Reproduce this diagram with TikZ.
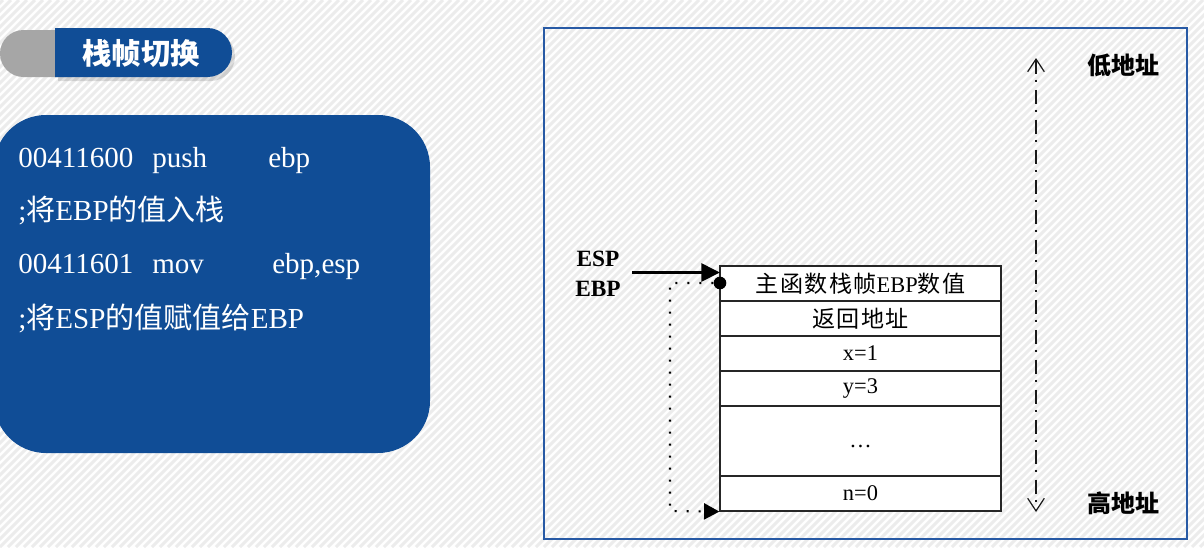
\documentclass[tikz,border=0pt]{standalone}
\usepackage{fontspec}
\setmainfont{Liberation Serif}
\newfontfamily\zhsans{Noto Sans CJK SC}
\usetikzlibrary{arrows.meta}
\definecolor{boxblue}{RGB}{16,77,150}
\definecolor{frameblue}{RGB}{40,90,165}
\definecolor{tabgray}{RGB}{166,166,166}
\definecolor{stripe}{RGB}{236,236,236}
\newcommand{\zh}[1]{{\zhsans #1}}
\newcommand{\zht}[1]{{\zhsans\fontsize{17.3}{20}\selectfont\addfontfeature{LetterSpace=6}#1}}

\begin{document}
\begin{tikzpicture}[x=0.75pt,y=-0.75pt,
  codetext/.style={text=white, font=\fontsize{21.8}{26}\selectfont, anchor=base west, inner sep=0pt},
  cell/.style={draw=black!85, line width=0.9pt, fill=white, minimum width={281*0.75pt},
               minimum height={35*0.75pt}, inner sep=0pt, font=\fontsize{16.8}{20}\selectfont},
  reglabel/.style={font=\fontsize{17.5}{20}\selectfont\bfseries, inner sep=0pt},
  addrlabel/.style={font=\fontsize{18}{20}\selectfont\zhsans\bfseries, inner sep=0pt},
  dotline/.style={line width=1.6pt, dash pattern=on 1.6pt off 7.4pt},
  axisline/.style={line width=0.9pt, black!90, dash pattern=on 10.5pt off 4.5pt on 1.5pt off 6pt}]

\useasboundingbox (0,0) rectangle (1204,547);

% striped page background
\fill[white] (0,0) rectangle (1204,547);
\begin{scope}
  \clip (0,0) rectangle (1204,547);
  \foreach \k in {-560,-552,...,1210}
    \draw[stripe, line width=2.3pt] (\k,547) -- (\k+547,0);
\end{scope}

% title tab: shadow, grey cap, blue label
\fill[black, opacity=0.13] (58,32) [rounded corners={24.5*0.75pt}] -- (235,32) -- (235,81) [sharp corners] -- (58,81) -- cycle;
\fill[tabgray] (70,30) [rounded corners={23.5*0.75pt}] -- (0,30) -- (0,77) [sharp corners] -- (70,77) -- cycle;
\fill[boxblue] (55,28) [rounded corners={24.5*0.75pt}] -- (232,28) -- (232,77) [sharp corners] -- (55,77) -- cycle;
\node[text=white, font=\fontsize{22}{24}\selectfont\zhsans\bfseries, inner sep=0pt] (title) at (141,53) {栈帧切换};

% assembly code box
\fill[boxblue, rounded corners={52*0.75pt}] (-6,115) rectangle (430,453);
\node[codetext] (c1a) at (18,167) {00411600};
\node[codetext] (c1b) at (152,167) {push};
\node[codetext] (c1c) at (268,167) {ebp};
\node[codetext] (c2) at (18,220) {;\zh{将}EBP\zh{的值入栈}};
\node[codetext] (c3a) at (18,273) {00411601};
\node[codetext] (c3b) at (152,273) {mov};
\node[codetext] (c3c) at (272,273) {ebp,esp};
\node[codetext] (c4) at (18,328) {;\zh{将}ESP\zh{的值赋值给}EBP};

% stack frame panel
\draw[frameblue, line width=1.5pt] (544,28) rectangle (1187,539);

% stack cells
\node[cell] (r1) at (860.5,283.5) {\zht{主函数栈帧}EBP\zht{数值}};
\node[cell] (r2) at (860.5,318.5) {\zht{返回地址}};
\node[cell] (r3) at (860.5,353.5) {x=1};
\node[cell] (r4) at (860.5,388.5) {y=3};
\node[cell, minimum height={70*0.75pt}] (r5) at (860.5,441) {};
\node[inner sep=0pt, font=\fontsize{16.8}{20}\selectfont] (dots) at (860.5,446) {…};
\node[cell] (r6) at (860.5,493.5) {n=0};

% ESP / EBP pointers
\node[reglabel] (esp) at (598,259) {ESP};
\node[reglabel] (ebp) at (598,289) {EBP};
\coordinate (espstart) at (632,272.5);
\coordinate (esptip) at (720,272.5);
\draw[line width=2pt, -{Triangle[length=14pt,width=13.5pt]}] (espstart) -- (esptip);

\node[circle, fill=black, inner sep=0pt, minimum size=9.5pt] (ebpdot) at (720,283) {};
\coordinate (bendA) at (670,283);
\coordinate (bendB) at (670,511);
\draw[dotline, -{Triangle[length=11.5pt,width=12pt]}] (ebpdot.west) -- (bendA) -- (bendB) -- (r6.south west);

% address direction axis
\coordinate (lowtip) at (1036,58);
\coordinate (hightip) at (1036,512);
\draw[axisline, {Straight Barb[length=9.5pt,width=12.5pt]}-{Straight Barb[length=9.5pt,width=12.5pt]}] (lowtip) -- (hightip);
\node[addrlabel] (low) at (1123,65) {低地址};
\node[addrlabel] (high) at (1123,503) {高地址};

\end{tikzpicture}
\end{document}
